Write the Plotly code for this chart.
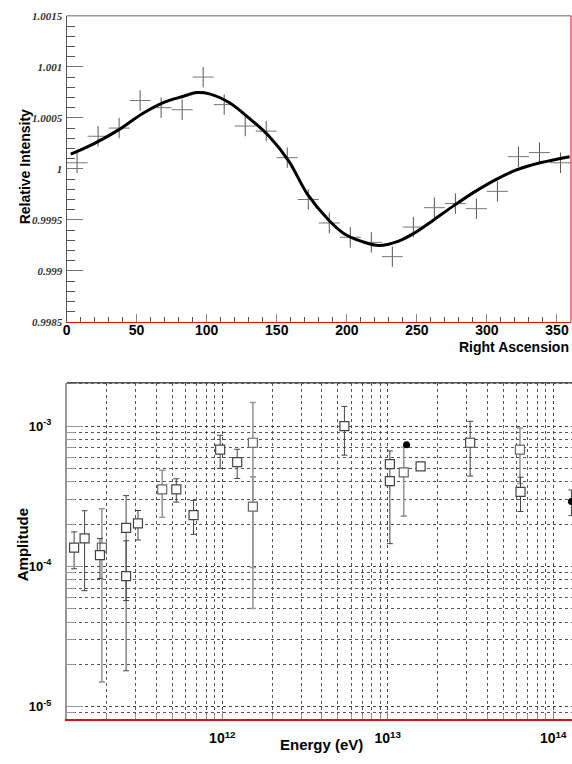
import plotly.graph_objects as go

# ---------------- Top panel data ----------------
ra_bins = [7.5, 22.5, 37.5, 52.5, 67.5, 82.5, 97.5, 112.5, 127.5, 142.5, 157.5, 172.5,
           187.5, 202.5, 217.5, 232.5, 247.5, 262.5, 277.5, 292.5, 307.5, 322.5, 337.5, 352.5]
rel_int = [1.00006, 1.00032, 1.00040, 1.00067, 1.00060, 1.00058, 1.00090, 1.00063,
           1.00042, 1.00037, 1.00011, 0.99970, 0.99947, 0.99933, 0.99928, 0.99914,
           0.99943, 0.99962, 0.99966, 0.99961, 0.99978, 1.00012, 1.00016, 1.00006]
ra_half_width = 7.5
rel_int_err = 0.0001

fit_ra = [3, 20, 38, 54, 69, 83, 93, 102, 116, 130, 144.5, 158.6, 172, 187,
          198.7, 210.6, 223, 236.5, 248, 262, 276.4, 290.6, 307, 321, 338, 359]
fit_ri = [1.000144, 1.00025, 1.00039, 1.00054, 1.00065, 1.00071, 1.000748, 1.000735,
          1.00065, 1.0005, 1.00032, 1.000077, 0.99975, 0.9995, 0.99936,
          0.99929, 0.99925, 0.99929, 0.99937, 0.9995, 0.99964, 0.99977, 0.9999, 0.99999,
          1.00006, 1.00012]

top_yticks = [0.9985, 0.999, 0.9995, 1.0, 1.0005, 1.001, 1.0015]
top_yticktext = ["0.9985", "0.999", "0.9995", "1", "1.0005", "1.001", "1.0015"]

# ---------------- Bottom panel data ----------------
dark_E = [1.27e11, 1.47e11, 1.82e11, 2.62e11, 2.62e11, 3.09e11, 5.27e11, 6.7e11,
          9.7e11, 1.23e12, 5.47e12, 1.03e13, 1.03e13, 1.58e13, 3.15e13, 6.35e13]
dark_A = [1.36e-4, 1.58e-4, 1.20e-4, 1.88e-4, 8.5e-5, 2.02e-4, 3.54e-4, 2.32e-4,
          6.79e-4, 5.53e-4, 1.0e-3, 5.36e-4, 4.05e-4, 5.15e-4, 7.6e-4, 3.39e-4]
dark_err = [0.40e-4, 0.91e-4, 0.38e-4, 1.31e-4, 0.67e-4, 0.48e-4, 0.67e-4, 0.63e-4,
            1.8e-4, 1.3e-4, 3.8e-4, 0.0, 2.6e-4, 0.0, 3.2e-4, 0.93e-4]

gray_E = [1.87e11, 4.33e11, 1.53e12, 1.53e12, 1.25e13, 6.3e13]
gray_A = [1.36e-4, 3.54e-4, 7.6e-4, 2.66e-4, 4.68e-4, 6.79e-4]
gray_err = [1.21e-4, 1.3e-4, 7.1e-4, 1.68e-4, 2.4e-4, 2.9e-4]

dot_E = [1.30e13, 1.29e14]
dot_A = [7.36e-4, 2.9e-4]
dot_err = [0.0, 0.6e-4]

bot_xticks = [1e12, 1e13, 1e14]
bot_xticktext = ["10<sup>12</sup>", "10<sup>13</sup>", "10<sup>14</sup>"]
bot_yticks = [1e-5, 1e-4, 1e-3]
bot_yticktext = ["10<sup>-5</sup>", "10<sup>-4</sup>", "10<sup>-3</sup>"]

W, H = 572, 764

fig = go.Figure()

# top panel crosses
fig.add_trace(go.Scatter(
    x=ra_bins, y=rel_int, mode="markers", xaxis="x", yaxis="y",
    marker=dict(size=1, color="rgba(0,0,0,0)"),
    error_x=dict(type="constant", value=ra_half_width, color="#777", thickness=1, width=0),
    error_y=dict(type="constant", value=rel_int_err, color="#555", thickness=1, width=0),
    showlegend=False, hoverinfo="skip"))
# fit curve
fig.add_trace(go.Scatter(
    x=fit_ra, y=fit_ri, mode="lines", line=dict(color="black", width=3, shape="spline", smoothing=1.0),
    xaxis="x", yaxis="y", showlegend=False))

# bottom panel
fig.add_trace(go.Scatter(
    x=gray_E, y=gray_A, mode="markers", xaxis="x2", yaxis="y2",
    marker=dict(symbol="square", size=9, color="white", line=dict(color="#666", width=1.2)),
    error_y=dict(type="data", array=gray_err, color="#999", thickness=1.6, width=3),
    showlegend=False))
fig.add_trace(go.Scatter(
    x=dark_E, y=dark_A, mode="markers", xaxis="x2", yaxis="y2",
    marker=dict(symbol="square", size=9, color="white", line=dict(color="#444", width=1.2)),
    error_y=dict(type="data", array=dark_err, color="#444", thickness=1, width=3),
    showlegend=False))
fig.add_trace(go.Scatter(
    x=dot_E, y=dot_A, mode="markers", xaxis="x2", yaxis="y2",
    marker=dict(symbol="circle", size=7, color="black"),
    error_y=dict(type="data", array=dot_err, color="#444", thickness=1, width=3),
    showlegend=False))

top_dom_y = [1 - 321 / H, 1 - 10 / H]
bot_dom_y = [1 - 724.3 / H, 1 - 382.7 / H]

tick_font_top_y = dict(family="Liberation Serif", size=11, color="#333", style="italic", weight="bold")
tick_font_bold = dict(family="Liberation Sans", size=14, color="black", weight="bold")
tick_font_bold_y2 = dict(family="Liberation Sans", size=13, color="black", weight="bold")

fig.update_layout(
    width=W, height=H, autosize=False,
    margin=dict(l=0, r=0, t=0, b=0),
    paper_bgcolor="white", plot_bgcolor="white",
    xaxis=dict(domain=[63 / W, 571 / W], range=[0, 360], anchor="y",
               showline=True, linecolor="#d11", linewidth=1,
               ticks="inside", ticklen=8, tickcolor="#888", dtick=50, tick0=0,
               minor=dict(ticks="inside", ticklen=5, tickcolor="#555", dtick=10),
               showgrid=False, zeroline=False, tickfont=tick_font_bold,
               ticklabelstandoff=-5),
    yaxis=dict(domain=top_dom_y, range=[0.9985, 1.0015], anchor="x",
               showline=True, linecolor="#555", linewidth=1,
               tickmode="array", tickvals=top_yticks, ticktext=top_yticktext,
               ticks="inside", ticklen=16, tickcolor="#777",
               minor=dict(ticks="inside", ticklen=8, tickcolor="#555", dtick=0.0001, tick0=0.9985),
               showgrid=False, zeroline=False, tickfont=tick_font_top_y,
               ticklabelstandoff=1),
    xaxis2=dict(domain=[63.3 / W, 1.0], type="log", range=[11.06, 14.114], anchor="y2",
                showline=True, linecolor="#d11", linewidth=1.5,
                tickmode="array", tickvals=bot_xticks, ticktext=bot_xticktext,
                ticks="inside", ticklen=8, tickcolor="#888",
                showgrid=True, gridcolor="#444", griddash="dot", gridwidth=1,
                minor=dict(ticks="inside", ticklen=5, tickcolor="#999", dtick="D1",
                           showgrid=True, gridcolor="#555", griddash="dot", gridwidth=1),
                zeroline=False, tickfont=tick_font_bold, ticklabelstandoff=6),
    yaxis2=dict(domain=bot_dom_y, type="log", range=[-5.088, -2.691], anchor="x2",
                showline=True, linecolor="#999", linewidth=2,
                tickmode="array", tickvals=bot_yticks, ticktext=bot_yticktext,
                ticks="inside", ticklen=16, tickcolor="#999",
                showgrid=True, gridcolor="#444", griddash="dot", gridwidth=1,
                minor=dict(ticks="inside", ticklen=8, tickcolor="#999", dtick="D1",
                           showgrid=True, gridcolor="#555", griddash="dot", gridwidth=1),
                zeroline=False, tickfont=tick_font_bold_y2, ticklabelstandoff=11),
)

# frame lines
fig.add_shape(type="line", xref="x domain", yref="y domain", x0=0, x1=1, y0=1, y1=1,
              line=dict(color="#666", width=1))
fig.add_shape(type="line", xref="x domain", yref="y domain", x0=1, x1=1, y0=0, y1=1,
              line=dict(color="#d11", width=1))
fig.add_shape(type="line", xref="x2 domain", yref="y2 domain", x0=0, x1=1, y0=1, y1=1,
              line=dict(color="#555", width=1.5))

ann_font = dict(family="Liberation Sans", color="black", weight="bold")
fig.add_annotation(text="Relative Intensity", xref="paper", yref="paper",
                   x=22 / W, y=1 - 163 / H, textangle=-90, showarrow=False,
                   font=dict(size=14, **ann_font), xanchor="center", yanchor="middle")
fig.add_annotation(text="Right Ascension", xref="paper", yref="paper",
                   x=571 / W, y=1 - 346 / H, showarrow=False,
                   font=dict(size=14, **ann_font), xanchor="right", yanchor="middle")
fig.add_annotation(text="Amplitude", xref="paper", yref="paper",
                   x=19 / W, y=1 - 547 / H, textangle=-90, showarrow=False,
                   font=dict(size=15, **ann_font), xanchor="center", yanchor="middle")
fig.add_annotation(text="Energy (eV)", xref="paper", yref="paper",
                   x=320 / W, y=1 - 750 / H, showarrow=False,
                   font=dict(size=15, **ann_font), xanchor="center", yanchor="middle")

fig.write_html("out.html")
